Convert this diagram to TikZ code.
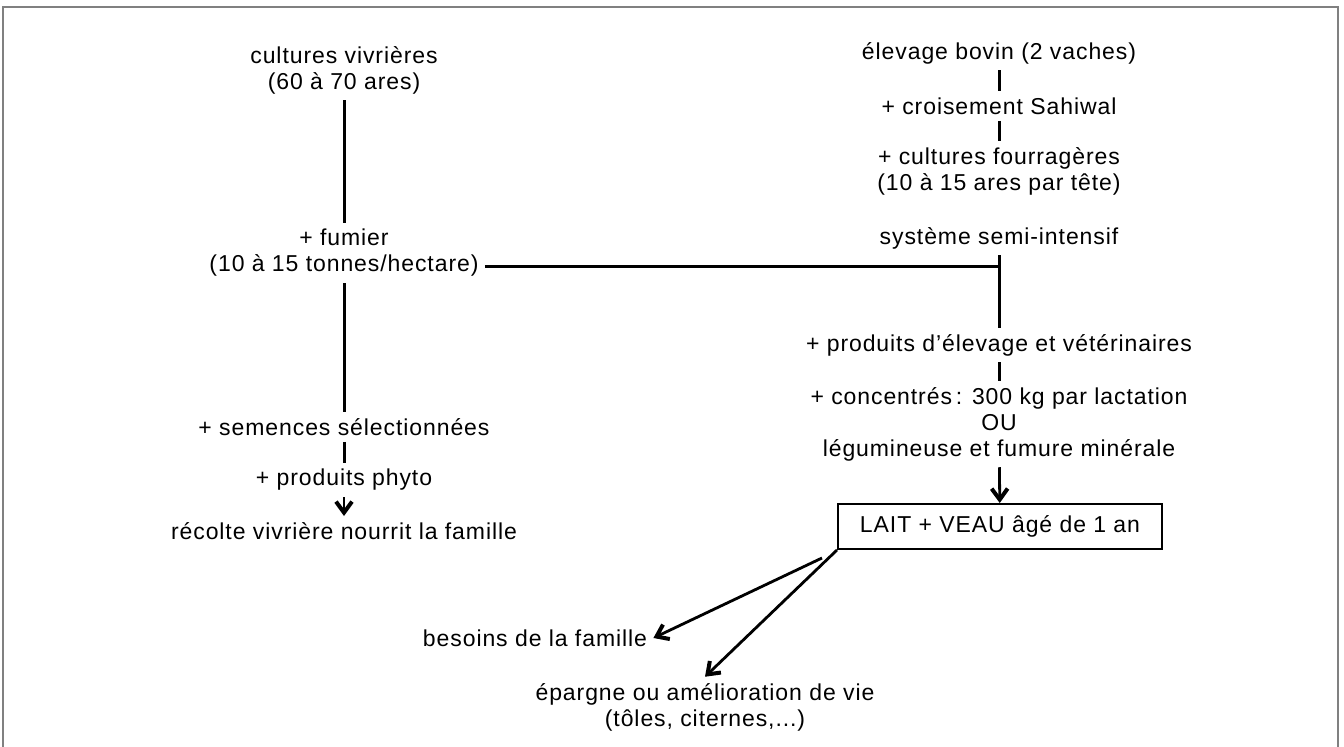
\documentclass[tikz,border=0pt]{standalone}
\usepackage{fontspec}
\setmainfont[LetterSpace=4]{Liberation Sans}
\usetikzlibrary{arrows.meta}
\tikzset{
	flow/.style={line width=1.5pt},
	flowarrow/.style={line width=1.4pt, -{Straight Barb[length=5.5pt,width=8pt,line width=2pt]}},
}
\begin{document}
\begin{tikzpicture}[x=0.5pt, y=-0.5pt, every node/.style={align=center, inner sep=3pt, font=\fontsize{11.5}{13}\selectfont}]
		\useasboundingbox (0,0) rectangle (1344,747);
		\draw[gray, line width=0.6pt] (3,747) -- (3,7) -- (1338,7) -- (1338,747);
		\node (cult) at (344,70) [] {cultures vivrières\\(60 à 70 ares)};
		\node (fum) at (344,253) [] {+ fumier\\(10 à 15 tonnes/hectare)};
		\node (sem) at (344,427) [] {+ semences sélectionnées};
		\node (phyto) at (344,480) [] {+ produits phyto};
		\node (rec) at (344,531) [] {récolte vivrière nourrit la famille};
		\node (elev) at (999,53) [] {élevage bovin (2 vaches)};
		\node (crois) at (999,106) [] {+ croisement Sahiwal};
		\node (fourr) at (999,171) [] {+ cultures fourragères\\(10 à 15 ares par tête)};
		\node (sys) at (999,238) [] {système semi-intensif};
		\node (prodv) at (999,345) [] {+ produits d'élevage et vétérinaires};
		\node (conc) at (999,424) [] {+ concentrés\,: 300 kg par lactation\\OU\\légumineuse et fumure minérale};
		\node[draw, line width=1pt, minimum width=162pt, minimum height=22.5pt] (lait) at (1000,526.5) [] {LAIT + VEAU âgé de 1 an};
		\node (bes) at (535,638) [] {besoins de la famille};
		\node (epar) at (705,707) [] {épargne ou amélioration de vie\\(tôles, citernes,...)};
		\coordinate (junc) at (999,267);
		\draw[flow] (cult) -- (fum);
		\draw[flow] (fum) -- (sem);
		\draw[flow] (sem) -- (phyto);
		\draw[flowarrow] (phyto) -- (rec);
		\draw[flow] (elev) -- (crois);
		\draw[flow] (crois) -- (fourr);
		\draw[flow] (sys) -- (prodv);
		\draw[flow] (fum.east |- junc) -- (junc);
		\draw[flow] (prodv) -- (conc);
		\draw[flowarrow] (conc) -- (lait);
		\draw[flowarrow] ([shift={(-15,8)}]lait.south west) -- (bes.east);
		\draw[flowarrow] (lait.south west) -- (epar.north);
	\end{tikzpicture}
\end{document}
